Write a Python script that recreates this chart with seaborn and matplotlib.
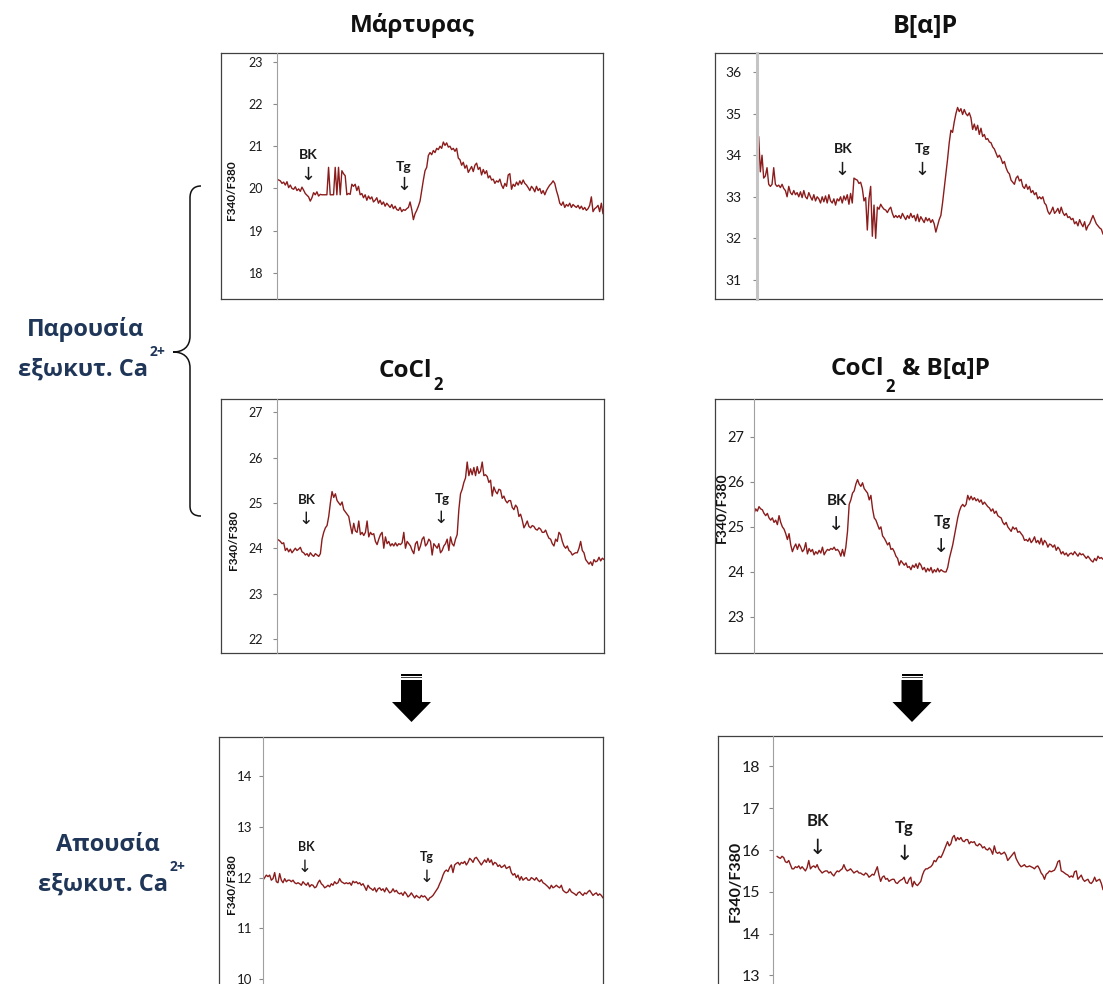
import numpy as np
import pandas as pd
import matplotlib
matplotlib.use("Agg")
import matplotlib.pyplot as plt
import seaborn as sns
from matplotlib.path import Path
from matplotlib.patches import PathPatch, Polygon, Rectangle

# ---------------------------------------------------------------
# Fura-2 ratio traces (F340/F380), one value per sampling step
# ---------------------------------------------------------------
control = [
    20.22, 20.2, 20.18, 20.12, 20.15, 20.08, 20.16, 20.02, 20.08, 20.0,
    19.98, 20.04, 19.95, 19.99, 19.93, 20.03, 19.96, 19.88, 19.84, 19.8,
    19.7, 19.78, 19.9, 19.85, 19.92, 19.82, 19.86, 19.85, 19.85, 19.85,
    19.85, 20.5, 19.85, 19.85, 19.85, 20.5, 19.85, 20.5, 19.85, 20.42,
    20.35, 20.3, 19.85, 19.88, 19.86, 20.1, 20.05, 20.1, 19.95, 20.05,
    19.85, 19.88, 19.78, 19.85, 19.72, 19.82, 19.75, 19.8, 19.68, 19.72,
    19.78, 19.65, 19.72, 19.62, 19.68, 19.58, 19.65, 19.6, 19.55, 19.62,
    19.52, 19.58, 19.5, 19.48, 19.55, 19.45, 19.5, 19.48, 19.52, 19.55,
    19.68, 19.5, 19.26, 19.4, 19.48, 19.58, 19.7, 19.95, 20.2, 20.42,
    20.5, 20.78, 20.85, 20.8, 20.9, 20.85, 20.95, 20.92, 21.0, 20.95,
    21.1, 21.02, 21.08, 20.98, 21.0, 20.92, 20.95, 20.88, 20.95, 20.72,
    20.68, 20.55, 20.62, 20.48, 20.55, 20.38, 20.45, 20.52, 20.4, 20.55,
    20.6, 20.45, 20.5, 20.32, 20.45, 20.35, 20.42, 20.25, 20.3, 20.2,
    20.22, 20.12, 20.18, 20.15, 20.22, 20.08, 20.0, 20.12, 20.05, 20.32,
    20.35, 19.98, 20.1, 20.05, 20.15, 20.08, 20.18, 20.1, 20.2, 20.12,
    20.08, 20.02, 19.95, 20.05, 20.0, 19.92, 20.05, 19.95, 20.0, 19.88,
    19.95, 19.85, 19.95, 20.02, 20.08, 20.12, 20.18, 20.12, 19.95, 19.82,
    19.65, 19.6, 19.68, 19.55, 19.62, 19.58, 19.65, 19.55, 19.62, 19.58,
    19.55, 19.6, 19.52, 19.58, 19.5, 19.55, 19.48, 19.52, 19.6, 19.8,
    19.45, 19.52, 19.55, 19.6, 19.45, 19.65, 19.4,
]

bap = [
    33.7, 34.45, 33.6, 34.0, 33.45, 33.5, 33.7, 33.3, 33.25, 33.3,
    33.7, 33.3, 33.25, 33.28, 33.22, 33.3, 33.2, 33.15, 33.0, 33.25,
    33.1, 33.05, 33.15, 33.05, 33.1, 33.0, 33.12, 32.98, 33.15, 33.0,
    32.95, 33.1, 33.0, 32.92, 33.05, 32.9, 33.0, 32.95, 32.85, 33.0,
    32.88, 33.02, 32.85, 33.05, 32.9, 32.85, 32.95, 32.8, 32.95, 32.9,
    33.0, 32.85, 33.02, 32.92, 33.05, 32.82, 33.08, 32.85, 33.45, 33.42,
    33.4, 33.32, 33.35, 33.2, 32.9, 32.98, 32.2, 32.95, 33.25, 32.05,
    32.8, 32.0, 32.75, 32.7, 32.82, 32.75, 32.7, 32.68, 32.62, 32.7,
    32.75, 32.6, 32.5, 32.55, 32.5, 32.55, 32.48, 32.6, 32.52, 32.45,
    32.55, 32.48, 32.6, 32.5, 32.55, 32.42, 32.58, 32.4, 32.52, 32.45,
    32.38, 32.5, 32.42, 32.48, 32.38, 32.45, 32.35, 32.15, 32.3, 32.45,
    32.55, 32.85, 33.2, 33.55, 33.9, 34.3, 34.6, 34.55, 34.8, 35.0,
    35.15, 35.05, 35.12, 34.98, 35.1, 35.0, 34.95, 35.02, 34.9, 34.62,
    34.75, 34.6, 34.72, 34.5, 34.65, 34.45, 34.5, 34.38, 34.4, 34.32,
    34.3, 34.2, 34.15, 34.05, 33.95, 34.0, 33.92, 33.8, 33.85, 33.7,
    33.6, 33.55, 33.4, 33.35, 33.3, 33.45, 33.5, 33.38, 33.42, 33.25,
    33.2, 33.3, 33.18, 33.25, 33.1, 33.15, 33.05, 33.1, 32.95, 33.0,
    32.95, 33.0, 32.85, 32.8, 32.65, 32.58, 32.65, 32.75, 32.6, 32.65,
    32.72, 32.6, 32.75, 32.62, 32.55, 32.6, 32.5, 32.52, 32.45, 32.48,
    32.35, 32.4, 32.3, 32.45, 32.35, 32.28, 32.4, 32.2, 32.3, 32.35,
    32.45, 32.55, 32.45, 32.35, 32.3, 32.25, 32.22, 32.1,
]

cocl2 = [
    24.2, 24.18, 24.15, 24.1, 24.12, 23.95, 24.0, 23.92, 23.98, 23.9,
    23.95, 24.0, 23.95, 23.98, 24.02, 23.92, 23.9, 23.85, 23.88, 23.82,
    23.9, 23.85, 23.82, 23.88, 23.85, 23.82, 23.88, 24.2, 24.35, 24.45,
    24.5, 24.7, 25.0, 25.25, 25.12, 25.2, 25.05, 25.0, 24.95, 25.02,
    24.85, 24.8, 24.75, 24.7, 24.5, 24.32, 24.55, 24.38, 24.35, 24.6,
    24.3, 24.35, 24.28, 24.35, 24.6, 24.25, 24.35, 24.3, 24.32, 24.15,
    24.08, 24.2, 24.3, 24.35, 24.0, 24.25, 24.1, 24.15, 24.05, 24.1,
    24.05, 24.12, 24.05, 24.1, 24.08, 24.12, 24.35, 24.0, 24.15, 24.1,
    24.05, 23.95, 23.88, 24.1, 24.15, 23.95, 24.05, 24.2, 24.25, 24.05,
    24.1, 24.2, 24.15, 23.85, 24.1, 24.05, 24.0, 24.1, 23.9, 23.95,
    24.05, 24.1, 24.2, 23.95, 24.25, 24.1, 24.05, 24.2, 24.3, 24.85,
    25.2, 25.3, 25.45, 25.55, 25.9, 25.6, 25.75, 25.62, 25.78, 25.6,
    25.8, 25.65, 25.7, 25.9, 25.6, 25.62, 25.58, 25.45, 25.5, 25.15,
    25.35, 25.25, 25.2, 25.3, 25.28, 25.1, 25.15, 25.05, 25.0, 25.05,
    25.05, 24.9, 24.85, 24.95, 24.9, 24.7, 24.75, 24.62, 24.45, 24.52,
    24.6, 24.48, 24.45, 24.5, 24.48, 24.42, 24.4, 24.45, 24.42, 24.35,
    24.35, 24.4, 24.3, 24.22, 24.2, 24.1, 24.05, 24.2, 24.15, 24.35,
    24.3, 24.15, 24.05, 24.0, 24.05, 23.95, 23.92, 23.85, 23.88, 23.9,
    23.9, 24.0, 24.15, 23.95, 23.9, 23.75, 23.7, 23.65, 23.7, 23.62,
    23.75, 23.7, 23.72, 23.8, 23.72, 23.78, 23.75,
]

cocl2_bap = [
    25.3, 25.4, 25.35, 25.45, 25.4, 25.38, 25.3, 25.25, 25.3, 25.2,
    25.15, 25.2, 25.1, 25.15, 25.05, 25.25, 25.1, 25.0, 24.95, 24.85,
    24.72, 24.85, 24.6, 24.45, 24.55, 24.62, 24.5, 24.62, 24.55, 24.45,
    24.5, 24.65, 24.4, 24.52, 24.45, 24.5, 24.38, 24.45, 24.4, 24.48,
    24.42, 24.55, 24.38, 24.45, 24.5, 24.48, 24.52, 24.5, 24.55, 24.48,
    24.5, 24.45, 24.35, 24.5, 24.35, 24.55, 24.9, 25.5, 25.6, 25.75,
    25.8, 25.95, 26.05, 25.95, 25.9, 25.98, 25.85, 25.8, 25.75, 25.6,
    25.7, 25.4, 25.2, 25.15, 25.05, 24.95, 25.0, 24.8, 24.75, 24.68,
    24.6, 24.65, 24.5, 24.52, 24.45, 24.35, 24.3, 24.15, 24.25, 24.2,
    24.15, 24.2, 24.1, 24.12, 24.05, 24.15, 24.1, 24.18, 24.08, 24.2,
    24.15, 24.05, 24.1, 24.0, 24.08, 24.02, 24.1, 23.98, 24.05, 24.0,
    24.08, 24.0, 24.05, 24.02, 24.0, 24.0, 24.1, 24.3, 24.45, 24.6,
    24.8, 25.0, 25.2, 25.35, 25.45, 25.5, 25.45, 25.5, 25.7, 25.6,
    25.68, 25.6, 25.65, 25.58, 25.62, 25.55, 25.6, 25.5, 25.55, 25.5,
    25.45, 25.42, 25.35, 25.4, 25.3, 25.35, 25.25, 25.22, 25.2, 25.1,
    25.05, 25.1, 25.0, 24.95, 24.9, 25.0, 24.95, 24.98, 24.88, 24.9,
    24.85, 24.8, 24.7, 24.72, 24.68, 24.75, 24.65, 24.7, 24.78, 24.65,
    24.7, 24.62, 24.75, 24.6, 24.7, 24.65, 24.55, 24.62, 24.6, 24.55,
    24.6, 24.48, 24.55, 24.5, 24.4, 24.45, 24.38, 24.42, 24.35, 24.4,
    24.42, 24.38, 24.45, 24.4, 24.35, 24.42, 24.38, 24.4, 24.35, 24.3,
    24.35, 24.3, 24.25, 24.22, 24.3, 24.25, 24.35, 24.3, 24.32, 24.28,
]

control_noca = [
    11.95, 12.0, 12.05, 12.02, 12.05, 11.95, 11.98, 12.1, 11.92, 11.9,
    12.08, 11.95, 11.9, 11.98, 11.92, 11.95, 11.95, 11.92, 11.95, 11.9,
    11.88, 11.9, 11.88, 11.85, 11.92, 11.88, 11.85, 11.9, 11.82, 11.86,
    11.85, 11.8, 11.82, 11.9, 11.95, 11.88, 11.85, 11.8, 11.82, 11.85,
    11.82, 11.88, 11.85, 11.92, 11.88, 11.9, 11.98, 11.92, 11.9, 11.88,
    11.9, 11.88, 11.9, 11.85, 11.93, 11.9, 11.92, 11.88, 11.9, 11.85,
    11.88, 11.82, 11.75, 11.85, 11.8, 11.78, 11.75, 11.8, 11.72, 11.78,
    11.8, 11.75, 11.78, 11.72, 11.8, 11.75, 11.7, 11.72, 11.78, 11.72,
    11.75, 11.7, 11.68, 11.7, 11.65, 11.72, 11.68, 11.62, 11.65, 11.7,
    11.65, 11.6, 11.65, 11.62, 11.6, 11.65, 11.62, 11.64, 11.6, 11.55,
    11.6, 11.62, 11.65, 11.7, 11.75, 11.8, 11.88, 11.95, 12.05, 12.12,
    12.15, 12.12, 12.2, 12.25, 12.1, 12.25, 12.28, 12.3, 12.25, 12.3,
    12.28, 12.32, 12.25, 12.3, 12.38, 12.35, 12.3, 12.38, 12.4, 12.35,
    12.3, 12.25, 12.3, 12.35, 12.3, 12.38, 12.3, 12.35, 12.25, 12.3,
    12.28, 12.22, 12.25, 12.2, 12.22, 12.25, 12.18, 12.2, 12.22, 12.1,
    12.05, 12.08, 12.0, 12.05, 11.95, 12.02, 11.95, 11.98, 12.0, 11.95,
    11.95, 12.0, 11.98, 11.95, 12.0, 11.95, 11.92, 11.96, 11.9, 11.88,
    11.85, 11.82, 11.78, 11.85, 11.8, 11.82, 11.85, 11.82, 11.8, 11.85,
    11.75, 11.72, 11.7, 11.72, 11.78, 11.72, 11.7, 11.68, 11.65, 11.7,
    11.72, 11.68, 11.65, 11.7, 11.68, 11.72, 11.75, 11.7, 11.65, 11.68,
    11.7, 11.65, 11.68, 11.65, 11.6,
]

cocl2_bap_noca = [
    15.85, 15.82, 15.8, 15.85, 15.82, 15.72, 15.7, 15.75, 15.65, 15.55,
    15.55, 15.6, 15.58, 15.62, 15.55, 15.6, 15.55, 15.5, 15.58, 15.75,
    15.55, 15.6, 15.62, 15.58, 15.65, 15.55, 15.5, 15.45, 15.48, 15.5,
    15.5, 15.45, 15.48, 15.42, 15.38, 15.45, 15.5, 15.48, 15.52, 15.55,
    15.65, 15.55, 15.5, 15.52, 15.55, 15.5, 15.45, 15.48, 15.5, 15.45,
    15.45, 15.42, 15.4, 15.45, 15.42, 15.35, 15.38, 15.42, 15.4, 15.5,
    15.6, 15.4, 15.25, 15.35, 15.38, 15.3, 15.32, 15.25, 15.28, 15.3,
    15.3, 15.22, 15.2, 15.25, 15.28, 15.3, 15.35, 15.22, 15.2, 15.3,
    15.35, 15.12, 15.25, 15.18, 15.15, 15.2, 15.25, 15.4, 15.5, 15.55,
    15.55, 15.58, 15.6, 15.65, 15.75, 15.72, 15.8, 15.85, 15.82, 15.9,
    16.0, 16.1, 16.2, 16.1, 16.15, 16.3, 16.35, 16.22, 16.3, 16.25,
    16.3, 16.22, 16.2, 16.25, 16.25, 16.15, 16.2, 16.18, 16.2, 16.12,
    16.1, 16.15, 16.12, 16.05, 16.08, 16.02, 16.0, 16.05, 16.0, 15.9,
    16.1, 15.95, 15.92, 15.95, 15.9, 15.92, 15.95, 15.88, 15.75, 15.8,
    15.85, 15.9, 15.95, 15.8, 15.72, 15.65, 15.6, 15.62, 15.65, 15.6,
    15.6, 15.62, 15.6, 15.58, 15.55, 15.6, 15.62, 15.55, 15.45, 15.4,
    15.3, 15.42, 15.45, 15.5, 15.48, 15.5, 15.52, 15.6, 15.72, 15.75,
    15.5, 15.48, 15.45, 15.42, 15.4, 15.35, 15.38, 15.35, 15.48, 15.5,
    15.3, 15.35, 15.4, 15.3, 15.25, 15.28, 15.3, 15.22, 15.2, 15.25,
    15.35, 15.25, 15.28, 15.3, 15.2, 15.05,
]

# y-axis tick values of each panel
ticks_control = [18, 19, 20, 21, 22, 23]
ticks_bap = [31, 32, 33, 34, 35, 36]
ticks_cocl2 = [22, 23, 24, 25, 26, 27]
ticks_cocl2_bap = [23, 24, 25, 26, 27]
ticks_control_noca = [10, 11, 12, 13, 14]
ticks_cocl2_bap_noca = [13, 14, 15, 16, 17, 18]

titles = ["Μάρτυρας", "B[α]P", "CoCl", "2", "& B[α]P"]
ylabel = "F340/F380"
marker_labels = ["BK", "Tg"]
group_labels = [("Παρουσία", "εξωκυτ. Ca", "2+"), ("Απουσία", "εξωκυτ. Ca", "2+")]

# ---------------------------------------------------------------
sns.set_theme(style="white")
plt.rcParams["font.family"] = ["Lato", "Open Sans", "DejaVu Sans"]
HEAD_FONT = ["Open Sans", "DejaVu Sans"]

W, H = 1103, 984
fig = plt.figure(figsize=(W / 100, H / 100), dpi=100)
TRACE = "#8B1C1C"
NAVY = "#1F3658"


def px_axes(x0, y0, x1, y1, z=1):
    return fig.add_axes([x0 / W, 1 - y1 / H, (x1 - x0) / W, (y1 - y0) / H], zorder=z)


def panel(frame, inner, values, ylim, ticks, tick_fs, pad, spine_lw=0.8,
          spine_c="#a0a0a0", x_start=0.0):
    fr = px_axes(*frame, z=1)
    fr.set_xticks([])
    fr.set_yticks([])
    fr.set_facecolor("white")
    for s in fr.spines.values():
        s.set_color("#404040")
        s.set_linewidth(0.9)
        s.set_visible(True)

    ax = px_axes(*inner, z=2)
    ax.patch.set_alpha(0)
    df = pd.DataFrame({"t": np.arange(len(values)), "ratio": values})
    sns.lineplot(data=df, x="t", y="ratio", ax=ax, color=TRACE, linewidth=1.0)
    ax.set_xlim(x_start, len(values) - 1)
    ax.set_ylim(*ylim)
    ax.set_yticks(ticks)
    ax.set_yticklabels([str(t) for t in ticks])
    ax.set_xticks([])
    ax.set_xlabel("")
    ax.set_ylabel("")
    for side in ("top", "right", "bottom"):
        ax.spines[side].set_visible(False)
    ax.spines["left"].set_visible(True)
    ax.spines["left"].set_color(spine_c)
    ax.spines["left"].set_linewidth(spine_lw)
    ax.tick_params(axis="y", which="major", left=True, direction="out", length=3,
                   width=0.8, color="#8a8a8a", labelsize=tick_fs,
                   labelcolor="#1a1a1a", pad=pad)
    return ax


panel((221, 53, 603, 299), (277, 53, 603, 299), control, (17.38, 23.21),
      ticks_control, 9, 7)
panel((715, 53, 1115, 299), (757, 53, 1103, 299), bap, (30.54, 36.46),
      ticks_bap, 10, 8, spine_lw=2.2, spine_c="#c4c4c4")
panel((221, 399, 604, 653), (277, 399, 604, 653), cocl2, (21.69, 27.29),
      ticks_cocl2, 9, 7)
panel((715, 399, 1115, 653), (754, 399, 1103, 653), cocl2_bap, (22.2, 27.84),
      ticks_cocl2_bap, 10.5, 4)
panel((219, 737, 603, 1000), (263, 737, 603, 1000), control_noca, (9.59, 14.77),
      ticks_control_noca, 9.5, 5)
panel((718, 736, 1115, 1000), (773, 736, 1103, 1000), cocl2_bap_noca, (12.41, 18.73),
      ticks_cocl2_bap_noca, 11.5, 6, x_start=-2.4)

# overlay in pixel coordinates for titles, labels and drawn symbols
ov = fig.add_axes([0, 0, 1, 1], zorder=5)
ov.set_xlim(0, W)
ov.set_ylim(H, 0)
ov.axis("off")
ov.patch.set_alpha(0)
renderer = fig.canvas.get_renderer()


def text_run(x, parts, **kw):
    """Lay out text pieces one after another; each part is (text, size, baseline_y, gap)."""
    for s, fs, yb, gap in parts:
        t = ov.text(x + gap, yb, s, fontsize=fs, ha="left", va="baseline", **kw)
        x = x + gap + t.get_window_extent(renderer).width
    return x


# panel titles
tkw = dict(fontweight="bold", color="#111111", family=HEAD_FONT)
ov.text(412, 32, titles[0], fontsize=17.5, ha="center", va="baseline", **tkw)
ov.text(925, 33, titles[1], fontsize=18, ha="center", va="baseline", **tkw)
text_run(379, [(titles[2], 17.5, 377, 0), (titles[3], 12, 390, 1)], **tkw)
text_run(831, [(titles[2], 17.5, 375, 0), (titles[3], 12, 392, 1),
               (titles[4], 17.5, 375, 7)], **tkw)

# y-axis titles
for x, y, fs in [(232, 190, 8.5), (234, 540, 8.5), (721, 508, 10),
                 (231, 884, 8.5), (736, 881, 11.5)]:
    ov.text(x, y, ylabel, rotation=90, ha="center", va="center", fontsize=fs,
            fontweight="bold", color="#111111")

# BK / Tg additions with arrows
marks = [
    ((308, 155), (308, 175), (404, 167), (404, 185), 10),
    ((843, 149), (842, 170), (923, 149), (922, 170), 10),
    ((307, 500), (306, 519), (442, 499), (441, 518), 9.5),
    ((837, 501), (836, 525), (942, 522), (941, 546), 11),
    ((306, 847), (305, 867), (427, 857), (427, 877), 9),
    ((818, 821), (817, 848), (904, 828), (904, 854), 12),
]
for bk, bka, tg, tga, fs in marks:
    for (lx, ly), (axx, ayy), lab in [(bk, bka, marker_labels[0]), (tg, tga, marker_labels[1])]:
        ov.text(lx, ly, lab, ha="center", va="center", fontsize=fs,
                fontweight="bold", color="#1a1a1a")
        ov.text(axx, ayy, "↓", ha="center", va="center", fontsize=fs + 3,
                family="DejaVu Sans", color="#1a1a1a")

# group labels on the left
lkw = dict(fontweight="bold", color=NAVY, family=HEAD_FONT)
for (first, second, sup), cx, base1, base2, right in [
        (group_labels[0], 86, 336, 376, 148),
        (group_labels[1], 108, 851, 891, 168)]:
    ov.text(cx, base1, first, fontsize=17, ha="center", va="baseline", **lkw)
    ov.text(right, base2, second, fontsize=17, ha="right", va="baseline", **lkw)
    ov.text(right + 2, base2 - 20, sup, fontsize=10, ha="left", va="baseline", **lkw)

# curly brace grouping the two rows recorded with extracellular Ca2+
verts = [(201, 186), (194, 186), (190, 190), (190, 198),
         (190, 336),
         (190, 347), (183, 352), (173, 352),
         (183, 352), (190, 357), (190, 368),
         (190, 506),
         (190, 513), (194, 516), (201, 516)]
codes = [Path.MOVETO, Path.CURVE4, Path.CURVE4, Path.CURVE4,
         Path.LINETO,
         Path.CURVE4, Path.CURVE4, Path.CURVE4,
         Path.CURVE4, Path.CURVE4, Path.CURVE4,
         Path.LINETO,
         Path.CURVE4, Path.CURVE4, Path.CURVE4]
ov.add_patch(PathPatch(Path(verts, codes), fill=False, lw=1.1, ec="#111111"))

# block arrows leading to the Ca2+-free recordings
for cx in (411.5, 912):
    ov.add_patch(Rectangle((cx - 10.5, 673.5), 21, 2, color="black", lw=0))
    ov.add_patch(Rectangle((cx - 10.5, 676.8), 21, 1.4, color="#444444", lw=0))
    ov.add_patch(Polygon([(cx - 10.5, 680), (cx + 10.5, 680), (cx + 10.5, 702),
                          (cx + 19.5, 702), (cx, 722), (cx - 19.5, 702),
                          (cx - 10.5, 702)], closed=True, color="black", lw=0))

fig.savefig("out.png", dpi=100)
